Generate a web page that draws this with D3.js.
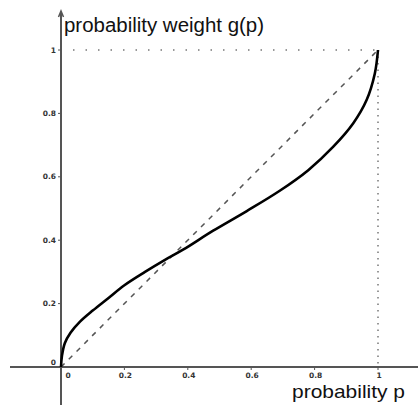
<!DOCTYPE html>
<html>
<head>
<meta charset="utf-8">
<script src="https://cdn.jsdelivr.net/npm/d3@7"></script>
<style>
  body { margin: 0; background: #fff; }
  svg { display: block; }
</style>
</head>
<body>
<div id="chart"></div>
<script>
// probability p and weight g(p)
var pValues = [0, 0.003, 0.012, 0.03, 0.06, 0.1, 0.15, 0.2, 0.265, 0.328, 0.385, 0.48, 0.586, 0.69, 0.78, 0.859, 0.922, 0.964, 0.99, 1]
var gValues = [0, 0.035, 0.075, 0.108, 0.143, 0.178, 0.218, 0.258, 0.3, 0.338, 0.37, 0.43, 0.492, 0.556, 0.621, 0.695, 0.769, 0.842, 0.926, 1]
var xTicks = [0, 0.2, 0.4, 0.6, 0.8, 1]
var yTicks = [0, 0.2, 0.4, 0.6, 0.8, 1]
var xTickLabels = ['0', '0.2', '0.4', '0.6', '0.8', '1']
var yTickLabels = ['0', '0.2', '0.4', '0.6', '0.8', '1']

var width = 419
var height = 405

var svg = d3.select('#chart').append('svg').attr('width', width).attr('height', height)

var xScale = d3.scaleLinear().domain([0, 1]).range([61, 378])
var yScale = d3.scaleLinear().domain([0, 1]).range([367, 50])

var axisColor = '#555'

// axes lines
svg.append('line').attr('x1', 10).attr('x2', 418).attr('y1', yScale(0)).attr('y2', yScale(0))
    .attr('stroke', axisColor).attr('stroke-width', 2)
svg.append('line').attr('x1', xScale(0)).attr('x2', xScale(0)).attr('y1', 13).attr('y2', 405)
    .attr('stroke', axisColor).attr('stroke-width', 2)
// little arrow on top of y axis
svg.append('path').attr('d', `M${xScale(0) - 2.5},${17} L${xScale(0)},${11} L${xScale(0) + 2.5},${17}`)
    .attr('fill', 'none').attr('stroke', axisColor).attr('stroke-width', 1.5)

// ticks
svg.selectAll('.xtick').data(xTicks.slice(1)).join('line').attr('class', 'xtick')
    .attr('x1', d => xScale(d)).attr('x2', d => xScale(d))
    .attr('y1', yScale(0)).attr('y2', yScale(0) + 3)
    .attr('stroke', axisColor).attr('stroke-width', 1)
svg.selectAll('.ytick').data(yTicks.slice(1)).join('line').attr('class', 'ytick')
    .attr('x1', xScale(0) - 3).attr('x2', xScale(0))
    .attr('y1', d => yScale(d)).attr('y2', d => yScale(d))
    .attr('stroke', axisColor).attr('stroke-width', 1)

// tick labels
svg.selectAll('.xlab').data(xTicks).join('text').attr('class', 'xlab')
    .attr('x', (d, i) => i == 0 ? xScale(d) + 7 : xScale(d) + 1)
    .attr('y', yScale(0) + 11)
    .attr('text-anchor', 'middle')
    .attr('font-family', 'DejaVu Sans').attr('font-size', 7.5).attr('font-weight', 'bold')
    .attr('fill', '#333')
    .text((d, i) => xTickLabels[i])
svg.selectAll('.ylab').data(yTicks).join('text').attr('class', 'ylab')
    .attr('x', xScale(0) - 5)
    .attr('y', (d, i) => i == 0 ? yScale(d) - 2 : yScale(d) + 2.5)
    .attr('text-anchor', 'end')
    .attr('font-family', 'DejaVu Sans').attr('font-size', 7.5).attr('font-weight', 'bold')
    .attr('fill', '#333')
    .text((d, i) => yTickLabels[i])

// dotted guide lines at p=1 and g=1
svg.append('line').attr('x1', xScale(0) + 12).attr('x2', xScale(1)).attr('y1', yScale(1)).attr('y2', yScale(1))
    .attr('stroke', '#777').attr('stroke-width', 1.5).attr('stroke-dasharray', '1.5,11')
svg.append('line').attr('x1', xScale(1)).attr('x2', xScale(1)).attr('y1', yScale(1)).attr('y2', yScale(0))
    .attr('stroke', '#777').attr('stroke-width', 1.5).attr('stroke-dasharray', '1.5,5')

// diagonal dashed line
svg.append('line').attr('x1', xScale(0)).attr('y1', yScale(0)).attr('x2', xScale(1)).attr('y2', yScale(1))
    .attr('stroke', '#555').attr('stroke-width', 1.5).attr('stroke-dasharray', '5,6')

// weighting function
var points = pValues.map((p, i) => [p, gValues[i]])
var line = d3.line().x(d => xScale(d[0])).y(d => yScale(d[1])).curve(d3.curveCatmullRom.alpha(0.5))
svg.append('path').datum(points).attr('d', line)
    .attr('fill', 'none').attr('stroke', '#000').attr('stroke-width', 2.6)

// axis titles
svg.append('text').attr('x', 64).attr('y', 32)
    .attr('font-family', 'Liberation Sans, Arial, sans-serif').attr('font-size', 20)
    .attr('textLength', 200).attr('lengthAdjust', 'spacingAndGlyphs')
    .attr('fill', '#111')
    .text('probability weight g(p)')
svg.append('text').attr('x', 292).attr('y', 398)
    .attr('font-family', 'Liberation Sans, Arial, sans-serif').attr('font-size', 19)
    .attr('textLength', 113).attr('lengthAdjust', 'spacingAndGlyphs')
    .attr('fill', '#111')
    .text('probability p')
</script>
</body>
</html>
